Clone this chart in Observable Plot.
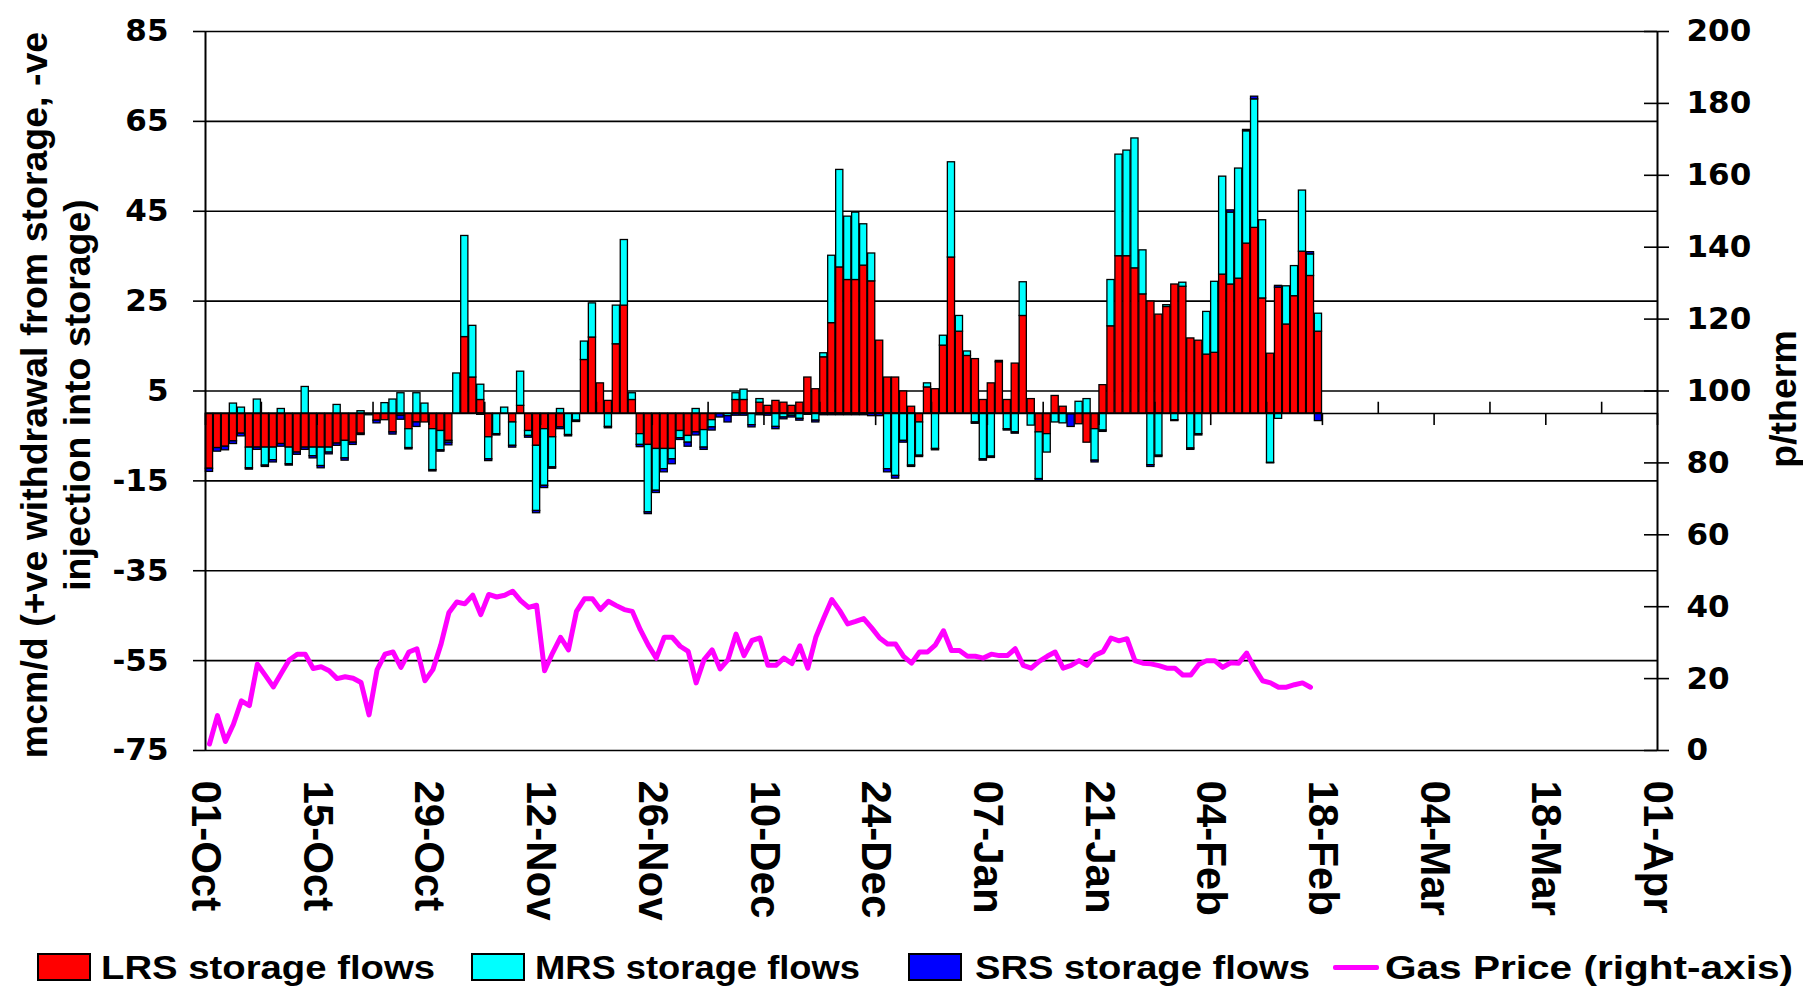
<!DOCTYPE html>
<html><head><meta charset="utf-8">
<script src="https://cdn.jsdelivr.net/npm/d3@7"></script>
<script src="https://cdn.jsdelivr.net/npm/@observablehq/plot@0.6"></script>
<style>
html,body{margin:0;padding:0;background:#fff;overflow:hidden;}
#wrap{position:relative;width:1803px;height:990px;}
#wrap svg{display:block;}
.leg{position:absolute;font-family:"Liberation Sans",Arial,sans-serif;font-weight:bold;font-size:34px;line-height:34px;white-space:nowrap;color:#000;transform-origin:0 0;}
.sw{position:absolute;border:2px solid #000;box-sizing:border-box;}
.ln{position:absolute;height:5px;background:#ff00ff;border-radius:2px;}
</style></head><body><div id="wrap"></div>
<script>
// ---------- data ----------
const seriesNames = ["LRS storage flows", "MRS storage flows", "SRS storage flows"];
const seriesColors = ["#ff0000", "#00ffff", "#0000ff"];
const priceName = "Gas Price (right-axis)";
const priceColor = "#ff00ff";
const startYear = 2006, startMonth = 9, startDay = 1; // 01-Oct-2006
const totalDays = 182;                                 // to 01-Apr-2007

// daily storage flows, mcm/d (from 01-Oct)
const lrs = [-12.3,-7.7,-7.4,-6.2,-4.5,-7.6,-7.6,-7.6,-7.6,-6.8,-7.6,-8.7,-7.6,-7.6,-7.6,-7.6,-6.7,-6.1,-6.5,-4.5,
  0,-1.6,-1.5,-4.2,-0.5,-3.5,-2.0,-2.0,-3.5,-3.9,-6.1,0,17.0,8.0,3.0,-5.3,0,0,-2.0,1.7,
  -3.9,-7.2,-3.5,-5.3,-3.1,0,0,11.9,16.9,6.7,2.8,15.4,24.0,3.0,-4.6,-7.0,-7.9,-7.9,-7.9,-3.9,
  -5.0,-4.2,-3.7,-1.5,0,0,3.0,3.0,0,2.4,1.7,2.8,2.4,1.7,2.4,8.0,5.4,12.5,20.1,32.5,
  29.7,29.7,32.9,29.4,16.2,8.0,8.0,4.9,1.5,-2.0,5.8,5.4,15.1,34.7,18.2,12.8,12.1,3.0,6.7,11.4,
  3.0,11.1,21.7,3.2,-4.2,-4.6,3.9,1.5,0,-2.4,-6.5,-3.5,6.3,19.4,35.0,35.0,32.3,26.5,24.9,22.0,
  23.7,28.7,28.2,16.7,16.2,13.1,13.5,30.9,28.7,30.0,37.8,41.3,25.6,13.3,28.0,19.8,26.1,36.0,30.6,18.2];
const mrs = [0,0,0,2.2,1.3,-4.6,3.1,-4.0,-2.8,1.0,-3.7,0,5.9,-1.9,-4.1,-1.1,1.9,-3.9,0,0.5,
  -0.4,0,2.3,3.1,4.5,-4.2,4.5,2.2,-9.1,-4.3,-0.4,8.9,22.5,11.5,3.4,-4.9,-4.6,1.3,-5.2,7.6,
  -1.1,-14.5,-12.6,-6.7,1.0,-4.8,-1.6,4.1,7.6,0,-3.0,8.6,14.6,1.5,-2.4,-15.0,-9.3,-4.5,-2.3,-1.6,
  -1.5,1.0,-3.9,-1.6,0,-0.6,1.5,2.3,-2.6,0.8,0,-3.0,-0.9,-0.5,-1.2,0,-1.6,0.9,15.0,21.7,
  14.1,15.0,9.2,6.2,0,-12.4,-13.9,-6.1,-11.6,-7.4,0.9,-7.9,2.2,21.2,3.5,1.0,-2.0,-10.2,-9.6,0,
  -3.5,-4.2,7.5,-2.7,-10.4,-4.1,-2.0,-2.2,-0.2,2.6,3.2,-7.0,-3.8,10.3,22.6,23.5,28.9,9.8,-11.5,-9.4,
  0.4,-1.5,0.9,-7.8,-4.6,9.5,15.8,21.8,16.0,24.5,25.0,28.6,17.4,-11.0,-1.2,8.5,6.7,13.6,4.8,4.0];
const srs = [-0.7,-0.8,-0.8,-0.6,-0.6,-0.3,-0.5,-0.3,-0.5,-0.6,-0.3,-0.5,-0.5,-0.5,-0.5,-0.4,-0.5,-0.5,-0.5,-0.3,
  0,-0.6,0,-0.5,-0.9,-0.3,-1.0,0,-0.3,-0.3,-0.6,0,0,0,-0.3,-0.4,-0.3,0,-0.4,0,
  -0.4,-0.5,-0.5,-0.3,-0.4,-0.3,-0.3,0,0,0,-0.3,0,0,0,-0.5,-0.4,-0.5,-0.7,-1.1,-0.4,
  -0.9,-0.7,-0.5,-0.7,-0.9,-1.4,-0.5,-0.5,-0.5,-0.4,-0.5,-0.5,-0.4,-0.4,-0.4,-0.3,-0.4,-0.4,-0.4,-0.4,
  -0.4,-0.4,-0.4,-0.6,-0.6,-0.7,-0.6,-0.4,-0.3,-0.3,0,-0.3,0,0,0,0,-0.3,-0.3,-0.3,0.3,
  -0.3,-0.3,0,0,-0.4,0,0,0,-2.8,0,0,-0.4,-0.3,0,0,0,0,0,-0.4,-0.3,
  0,-0.2,0,-0.3,-0.3,0,0,0,0.5,0,0.3,0.6,0,-0.1,0.4,0,0,0,0.5,-1.7];

// daily gas price, p/therm (from 01-Oct)
const price = [1.8,9.7,2.5,7.3,13.8,12.5,24.0,20.9,17.7,21.5,25.2,26.8,26.8,22.8,23.3,22.2,20.0,20.5,20.1,18.9,
  9.9,22.4,26.8,27.4,23.1,27.4,28.3,19.4,22.5,29.4,38.3,41.3,40.8,43.2,37.8,43.4,42.7,43.2,44.3,41.7,
  39.8,40.4,22.2,27.1,31.5,28.0,38.7,42.2,42.2,39.2,41.5,40.3,39.2,38.7,33.6,29.3,25.7,31.5,31.5,29.0,
  27.6,18.8,25.3,28.0,22.7,25.3,32.4,26.4,30.6,31.3,23.7,23.7,25.7,24.2,29.1,22.9,31.5,36.9,42.0,38.9,
  35.2,35.9,36.7,34.1,31.3,29.6,29.6,26.2,24.3,27.4,27.4,29.4,33.3,27.8,27.8,26.2,26.2,25.7,26.8,26.4,
  26.4,28.3,23.7,22.9,24.8,26.2,27.4,22.9,23.7,25.0,23.7,26.5,27.5,31.3,30.5,31.1,25.0,24.3,24.1,23.6,
  22.9,22.9,21.0,21.0,23.9,25.0,25.0,23.1,24.4,24.3,27.1,22.9,19.4,18.8,17.6,17.6,18.3,18.8,17.6];

const leftTicks = [-75, -55, -35, -15, 5, 25, 45, 65, 85];
const rightTicks = [0, 20, 40, 60, 80, 100, 120, 140, 160, 180, 200];
const majorStep = 14, minorOffset = 7;
const yTitle = "mcm/d (+ve withdrawal from storage, -ve\ninjection into storage)";
const y2Title = "p/therm";

// ---------- derived ----------
const t0 = new Date(Date.UTC(startYear, startMonth, startDay));
const day = (d) => d3.utcDay.offset(t0, d);
const tEnd = day(totalDays);
const leftMin = leftTicks[0], leftMax = leftTicks[leftTicks.length - 1];
const rMax = rightTicks[rightTicks.length - 1];
const toLeft = (p) => leftMin + p * (leftMax - leftMin) / rMax;
const majorDates = d3.range(0, totalDays + 1, majorStep).map(day);
const minorDates = d3.range(minorOffset, totalDays, majorStep).map(day);

const rows = [];
const all = [lrs, mrs, srs];
for (let i = 0; i < lrs.length; i++) {
  all.forEach((arr, k) => {
    if (arr[i] !== 0) rows.push({date: day(i), next: day(i + 1), series: seriesNames[k], value: arr[i]});
  });
}
const priceRows = price.map((p, i) => ({mid: d3.utcHour.offset(day(i), 12), y: toLeft(p)}));

const chart = Plot.plot({
  width: 1803, height: 935,
  marginTop: 31, marginBottom: 185, marginLeft: 205, marginRight: 146,
  style: {fontFamily: '"Liberation Sans", Arial, sans-serif', fontWeight: "bold", fontSize: "30px", color: "#000", background: "#fff", overflow: "visible"},
  x: {type: "utc", domain: [t0, tEnd]},
  y: {domain: [leftMin, leftMax]},
  color: {domain: seriesNames, range: seriesColors},
  marks: [
    Plot.ruleY(leftTicks, {stroke: "#000", strokeWidth: 1.6}),
    Plot.rectY(rows, {x1: "date", x2: "next", y: "value", z: "series", fill: "series", stroke: "#000", strokeWidth: 1.3, insetLeft: 0.4, insetRight: 0.4}),
    Plot.ruleY([0], {stroke: "#000", strokeWidth: 1.6}),
    Plot.ruleX(majorDates, {y1: 0, y2: -2.7, stroke: "#000", strokeWidth: 1.6}),
    Plot.ruleX(minorDates, {y1: 0, y2: 2.5, stroke: "#000", strokeWidth: 1.6}),
    Plot.ruleX([t0, tEnd], {stroke: "#000", strokeWidth: 2}),
    Plot.line(priceRows, {x: "mid", y: "y", stroke: priceColor, strokeWidth: 5, strokeLinejoin: "round", strokeLinecap: "round"}),
    Plot.axisY(leftTicks, {anchor: "left", tickSize: 12, tickPadding: 25, tickFormat: (d) => String(d), label: null, fontFamily: '"DejaVu Sans", sans-serif', fontSize: 31, fontWeight: "bold", strokeWidth: 1.6}),
    Plot.axisY(rightTicks.map(toLeft), {anchor: "right", tickSize: 11, tickPadding: 18, tickFormat: (d) => String(Math.round((d - leftMin) * rMax / (leftMax - leftMin))), label: null, fontFamily: '"DejaVu Sans", sans-serif', fontSize: 31, fontWeight: "bold", strokeWidth: 1.6}),
    Plot.axisY(rightTicks.map(toLeft), {anchor: "right", tickSize: 14, dx: -14, tickFormat: () => "", label: null, strokeWidth: 1.6}),
    Plot.axisX(majorDates, {anchor: "bottom", tickSize: 0, tickPadding: 30, tickRotate: 90, tickFormat: d3.utcFormat("%d-%b"), label: null, fontSize: 42, fontWeight: "bold"}),
    Plot.text([yTitle], {text: (d) => d, frameAnchor: "left", textAnchor: "middle", lineAnchor: "middle", rotate: -90, dx: -151, dy: 4, fontSize: 37.5, lineHeight: 1.17, fontWeight: "bold"}),
    Plot.text([y2Title], {text: (d) => d, frameAnchor: "right", textAnchor: "middle", lineAnchor: "middle", rotate: -90, dx: 126, dy: 8, fontSize: 37.5, fontWeight: "bold"})
  ]
});
const wrap = document.getElementById("wrap");
wrap.appendChild(chart);

// ---------- legend ----------
const legendItems = [
  {label: seriesNames[0], color: seriesColors[0], kind: "rect"},
  {label: seriesNames[1], color: seriesColors[1], kind: "rect"},
  {label: seriesNames[2], color: seriesColors[2], kind: "rect"},
  {label: priceName, color: priceColor, kind: "line"}
];
const legSwatchX = [37, 471, 908, 1333];
const legTextX = [101, 535, 975, 1385];
const legTextW = [334, 325, 335, 408];
legendItems.forEach((it, i) => {
  const s = document.createElement("div");
  if (it.kind === "rect") {
    s.className = "sw";
    Object.assign(s.style, {left: legSwatchX[i] + "px", top: "953px", width: "54px", height: "28px", background: it.color});
  } else {
    s.className = "ln";
    Object.assign(s.style, {left: legSwatchX[i] + "px", top: "965px", width: "46px", background: it.color});
  }
  wrap.appendChild(s);
  const t = document.createElement("div");
  t.className = "leg";
  t.textContent = it.label;
  Object.assign(t.style, {left: legTextX[i] + "px", top: "950px"});
  wrap.appendChild(t);
  const w = t.getBoundingClientRect().width;
  t.style.transform = `scaleX(${legTextW[i] / w})`;
});
</script></body></html>
